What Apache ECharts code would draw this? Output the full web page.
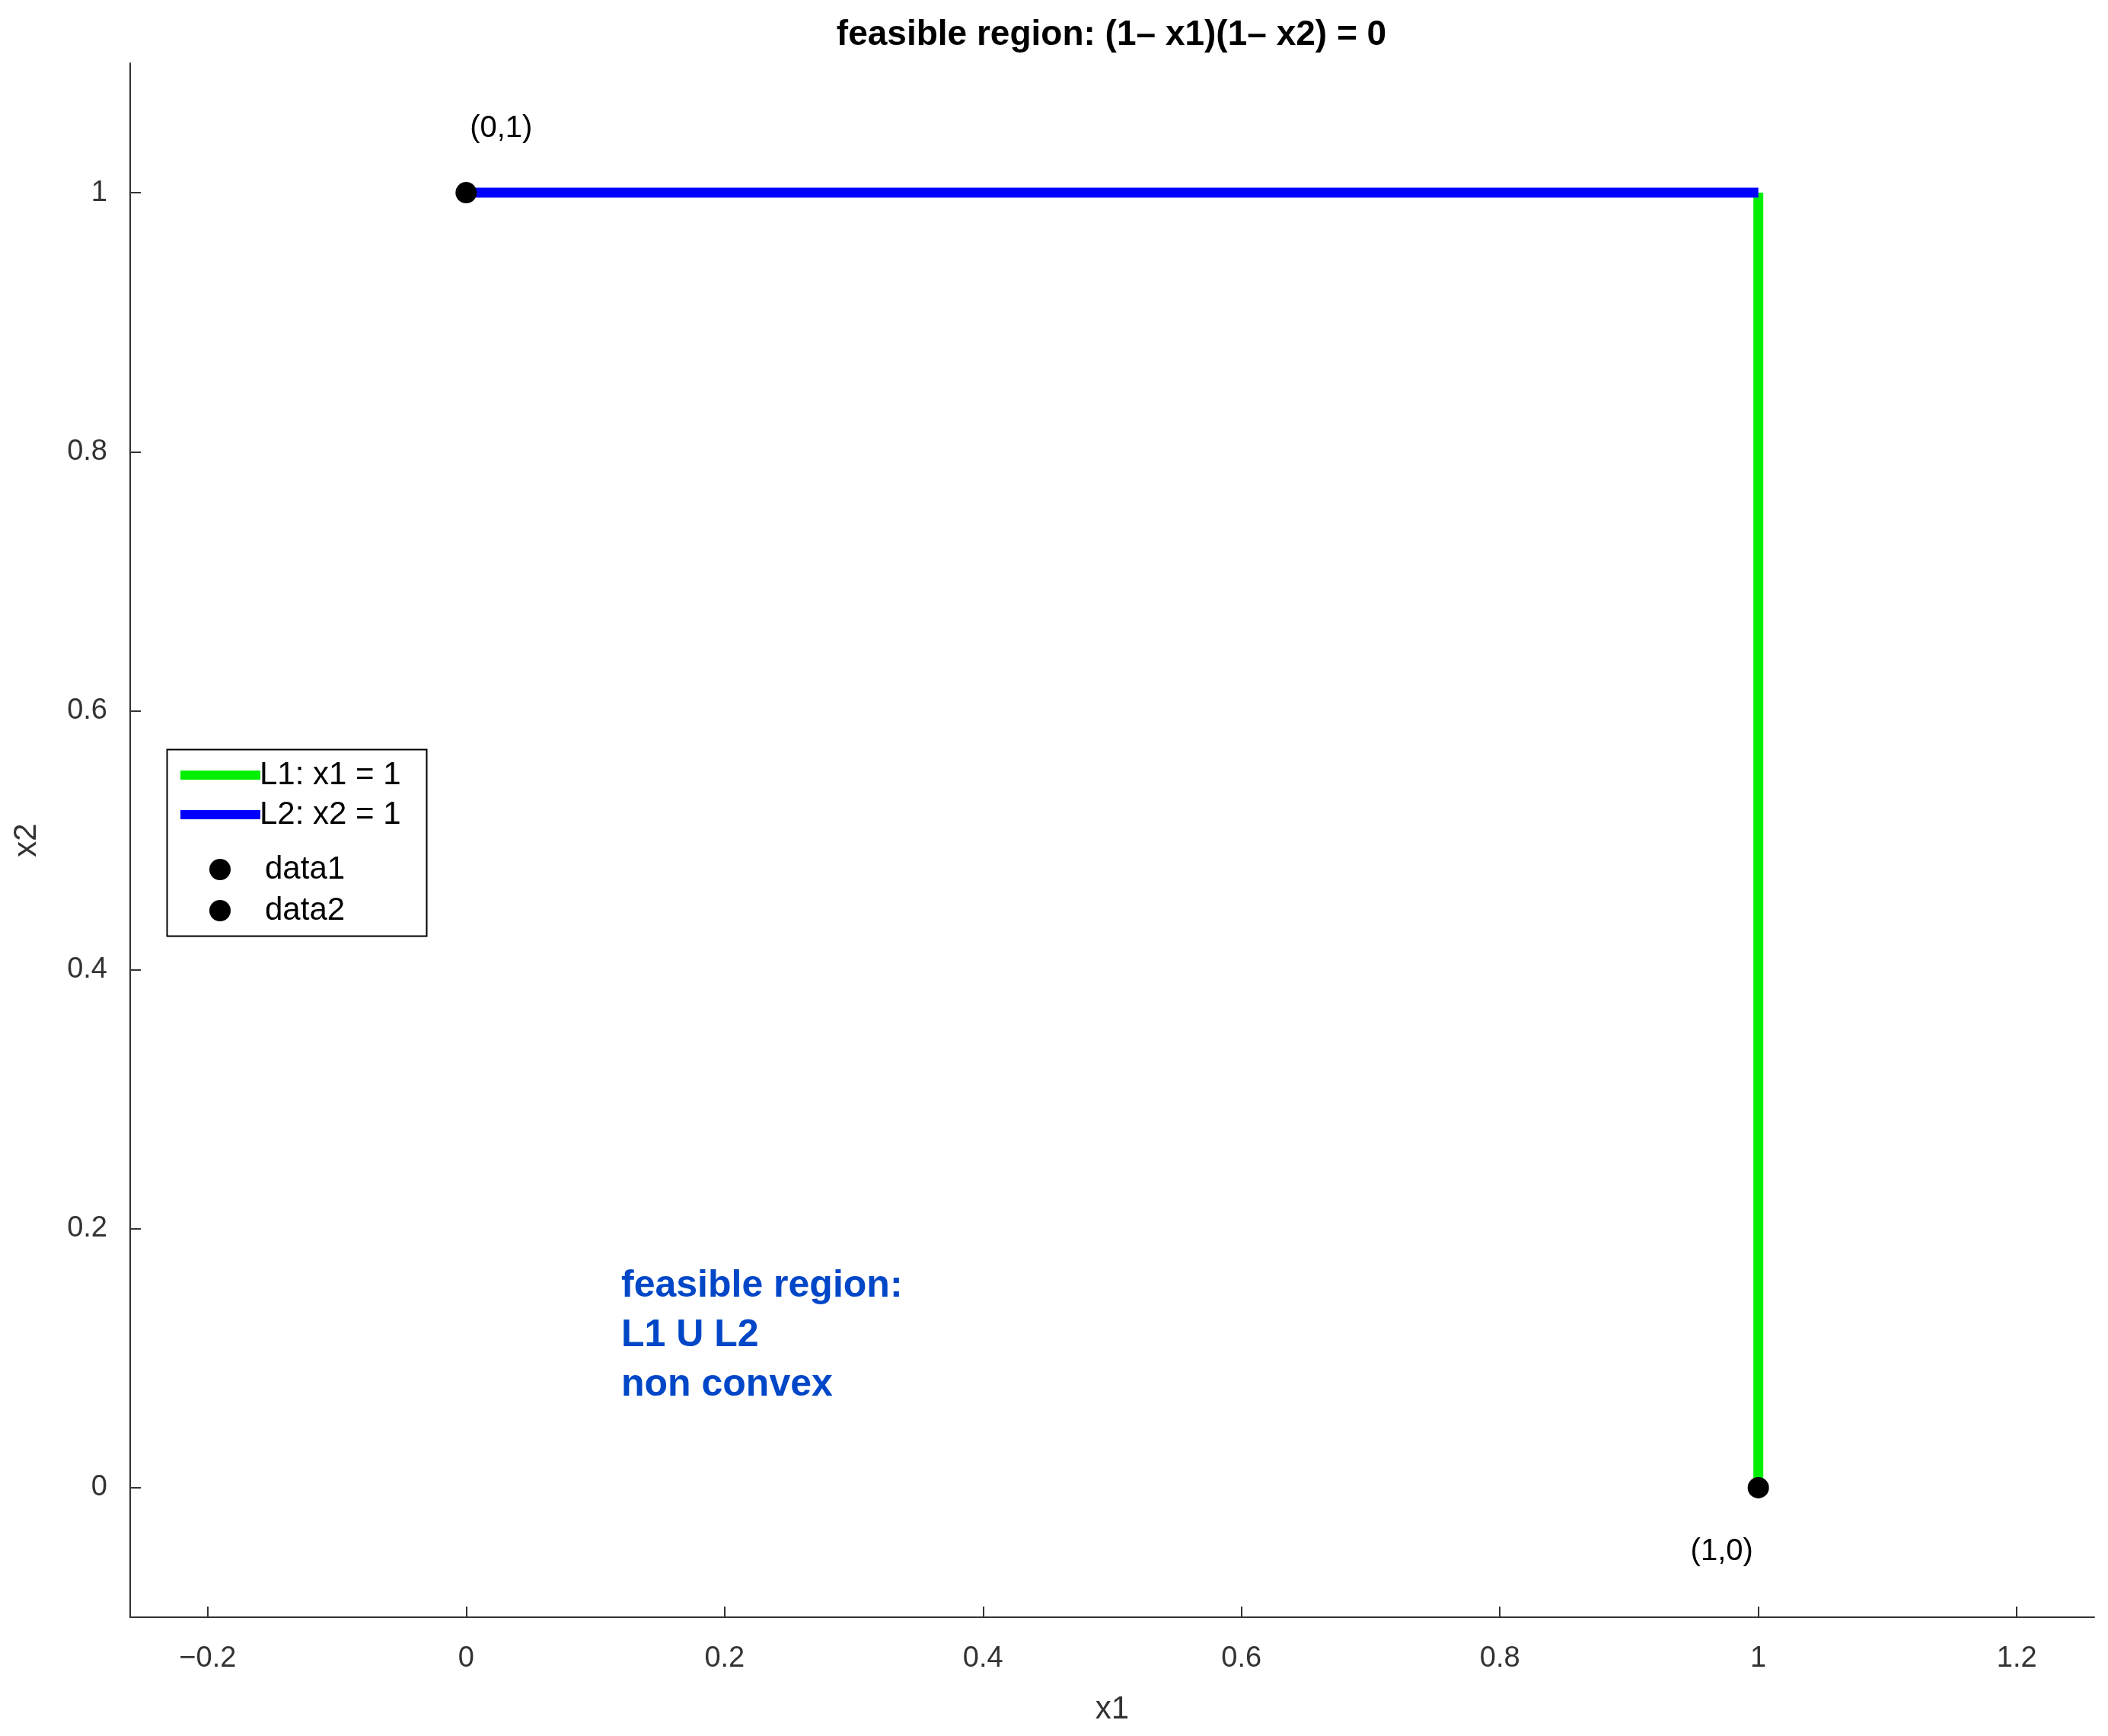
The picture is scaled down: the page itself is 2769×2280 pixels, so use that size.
<!DOCTYPE html>
<html><head><meta charset="utf-8">
<script src="https://cdn.jsdelivr.net/npm/echarts@6/dist/echarts.min.js"></script>
<style>html,body{margin:0;padding:0;background:#fff}#c{width:2769px;height:2280px}</style>
</head><body><div id="c"></div>
<script>
const xTicks = [-0.2, 0, 0.2, 0.4, 0.6, 0.8, 1, 1.2];
const yTicks = [0, 0.2, 0.4, 0.6, 0.8, 1];
const L1 = [[1, 0], [1, 1]];
const L2 = [[0, 1], [1, 1]];
const data1 = [[0, 1]];
const data2 = [[1, 0]];
const noteText = ['feasible region:', 'L1 U L2', 'non convex'];
const notePos = [[0.12, 0.175]];

const chart = echarts.init(document.getElementById('c'));
const F = 'Arial, Liberation Sans, sans-serif';
const axisCommon = {
  axisLine: { show: true, onZero: false, lineStyle: { color: '#333', width: 2 } },
  axisTick: { show: true, inside: true, length: 14, lineStyle: { color: '#333', width: 2 } },
  splitLine: { show: false },
  axisLabel: { color: '#333', fontSize: 38, fontFamily: F },
  nameTextStyle: { color: '#333', fontSize: 42, fontFamily: F }
};
chart.setOption({
  animation: false,
  backgroundColor: '#fff',
  title: { text: 'feasible region: (1\u2013 x1)(1\u2013 x2) = 0', left: 1455, textAlign: 'center', top: 18,
    textStyle: { fontSize: 46, fontWeight: 'bold', color: '#000', fontFamily: F } },
  grid: { left: 171, right: 18, top: 83, bottom: 156 },
  xAxis: Object.assign({}, axisCommon, { type: 'value', min: -0.26, max: 1.26, name: 'x1',
    nameLocation: 'middle', nameGap: 100,
    axisLabel: Object.assign({}, axisCommon.axisLabel, { customValues: xTicks, margin: 36, formatter: v => String(Math.round(v*10)/10).replace('-', '\u2212') }),
    axisTick: Object.assign({}, axisCommon.axisTick, { customValues: xTicks }) }),
  yAxis: Object.assign({}, axisCommon, { type: 'value', min: -0.1, max: 1.1, name: 'x2',
    nameLocation: 'middle', nameGap: 115,
    axisLabel: Object.assign({}, axisCommon.axisLabel, { customValues: yTicks, margin: 30, formatter: v => String(Math.round(v*10)/10) }),
    axisTick: Object.assign({}, axisCommon.axisTick, { customValues: yTicks }) }),
  legend: [
    { data: ['L1: x1 = 1', 'L2: x2 = 1'], orient: 'vertical', left: 232, top: 992, itemWidth: 105, itemHeight: 12,
      itemGap: 10, icon: 'rect', textStyle: { fontSize: 42, fontFamily: F, color: '#000', padding: [0, 0, 0, -6] } },
    { data: ['data1', 'data2'], orient: 'vertical', left: 270, top: 1116, itemWidth: 28, itemHeight: 28,
      itemGap: 12, icon: 'circle', itemStyle: { opacity: 1 }, textStyle: { fontSize: 42, fontFamily: F, color: '#000', padding: [0, 0, 0, 40] } }
  ],
  graphic: [{ type: 'rect', left: 217, top: 982, shape: { width: 341, height: 245 },
    style: { fill: 'none', stroke: '#000', lineWidth: 2 }, z: 0 }],
  series: [
    { name: 'L1: x1 = 1', type: 'line', data: L1, symbol: 'none', color: '#00ee00', lineStyle: { width: 13, color: '#00ee00' } },
    { name: 'L2: x2 = 1', type: 'line', data: L2, symbol: 'none', color: '#0000ff', lineStyle: { width: 13, color: '#0000ff' } },
    { name: 'data1', type: 'scatter', data: data1, symbolSize: 28, color: '#000', itemStyle: { opacity: 1 }, z: 5,
      label: { show: true, position: 'top', distance: 50, offset: [46, 0], formatter: '(0,1)', fontSize: 40, fontFamily: F, color: '#000' } },
    { name: 'data2', type: 'scatter', data: data2, symbolSize: 28, color: '#000', itemStyle: { opacity: 1 }, z: 5,
      label: { show: true, position: 'bottom', distance: 50, offset: [-48, 0], formatter: '(1,0)', fontSize: 40, fontFamily: F, color: '#000' } },
    { name: 'note', type: 'scatter', data: notePos, symbolSize: 0, silent: true, itemStyle: { opacity: 1 },
      label: { show: true, position: 'right', distance: 0, formatter: noteText.join('\n'), align: 'left', verticalAlign: 'top',
        fontSize: 50, fontWeight: 'bold', lineHeight: 65, color: '#0047c8', opacity: 1, fontFamily: F } }
  ]
});
</script></body></html>
